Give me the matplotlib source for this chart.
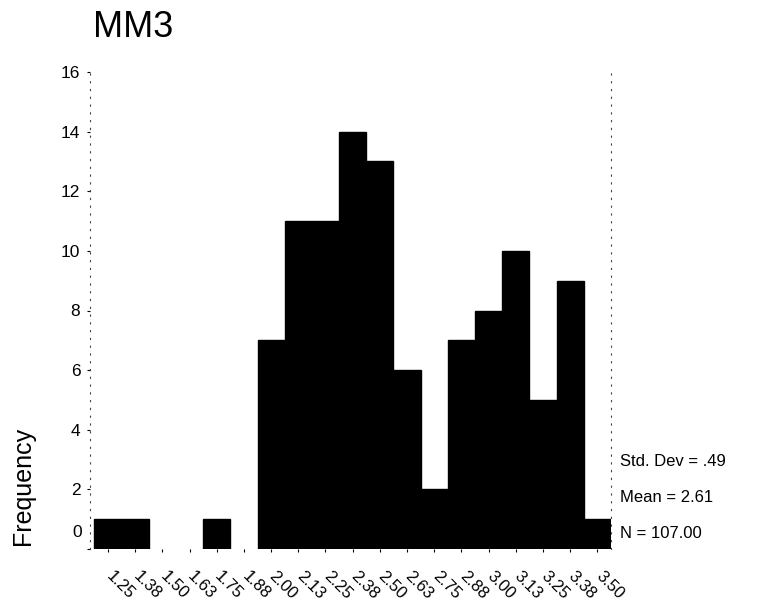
import matplotlib
matplotlib.use("Agg")
import matplotlib.pyplot as plt
import matplotlib.transforms as mtransforms
import numpy as np

plt.rcParams['font.family'] = ['Liberation Sans', 'DejaVu Sans']

# Data
bin_labels = ["1.25", "1.38", "1.50", "1.63", "1.75", "1.88", "2.00", "2.13", "2.25", "2.38",
              "2.50", "2.63", "2.75", "2.88", "3.00", "3.13", "3.25", "3.38", "3.50"]
bin_mids = [1.25, 1.375, 1.5, 1.625, 1.75, 1.875, 2.0, 2.125, 2.25, 2.375,
            2.5, 2.625, 2.75, 2.875, 3.0, 3.125, 3.25, 3.375, 3.5]
counts = [1, 1, 0, 0, 1, 0, 7, 11, 11, 14, 13, 6, 2, 7, 8, 10, 5, 9, 1]
bin_width = 0.125
y_ticks = [0, 2, 4, 6, 8, 10, 12, 14, 16]
stats_lines = ["Std. Dev = .49", "Mean = 2.61", "N = 107.00"]
title = "MM3"
ylabel = "Frequency"

W, H = 762, 604
fig = plt.figure(figsize=(W / 100, H / 100), dpi=100)
ax = fig.add_axes([90 / W, 1 - 549 / H, (611 - 90) / W, (549 - 72) / H])

edge_widths = [1.0 if c > 0 else 0.0 for c in counts]
ax.bar(bin_mids, counts, width=bin_width, color='black', edgecolor='black', linewidth=edge_widths)

ax.set_xlim(bin_mids[0] - bin_width / 2 - 0.02, bin_mids[-1] + bin_width / 2)
ax.set_ylim(0, 16)

ax.set_xticks(bin_mids)
ax.set_xticklabels(bin_labels, rotation=-45, ha='left', va='top', rotation_mode='anchor', fontsize=12)
ax.tick_params(axis='x', length=2, width=0.8, pad=12, colors='black')
shift = mtransforms.ScaledTranslation(6 / 100, 0, fig.dpi_scale_trans)
for lbl in ax.get_xticklabels():
    lbl.set_transform(lbl.get_transform() + shift)

ax.set_yticks(y_ticks)
ax.set_yticklabels([''] + [str(v) for v in y_ticks[1:]], fontsize=12.5)
ax.tick_params(axis='y', length=2, width=0.8, pad=5)
ax.annotate('0', xy=(0, 0), xycoords=('axes fraction', 'data'), xytext=(-6, 12),
            textcoords='offset points', ha='right', va='center', fontsize=12.5)

for side in ['top', 'bottom']:
    ax.spines[side].set_visible(False)
for side in ['left', 'right']:
    ax.spines[side].set_linestyle((0, (1, 6)))
    ax.spines[side].set_linewidth(0.8)
    ax.spines[side].set_color('#444444')

fig.text(93 / W, 1 - 37 / H, title, fontsize=26, ha='left', va='baseline')
fig.text(23 / W, 1 - 486 / H, ylabel, fontsize=18, rotation=90, ha='center', va='center')

for line, yc in zip(stats_lines, [461, 497, 533]):
    fig.text(620 / W, 1 - yc / H, line, fontsize=12, ha='left', va='center')

fig.savefig("out.png", dpi=100)
